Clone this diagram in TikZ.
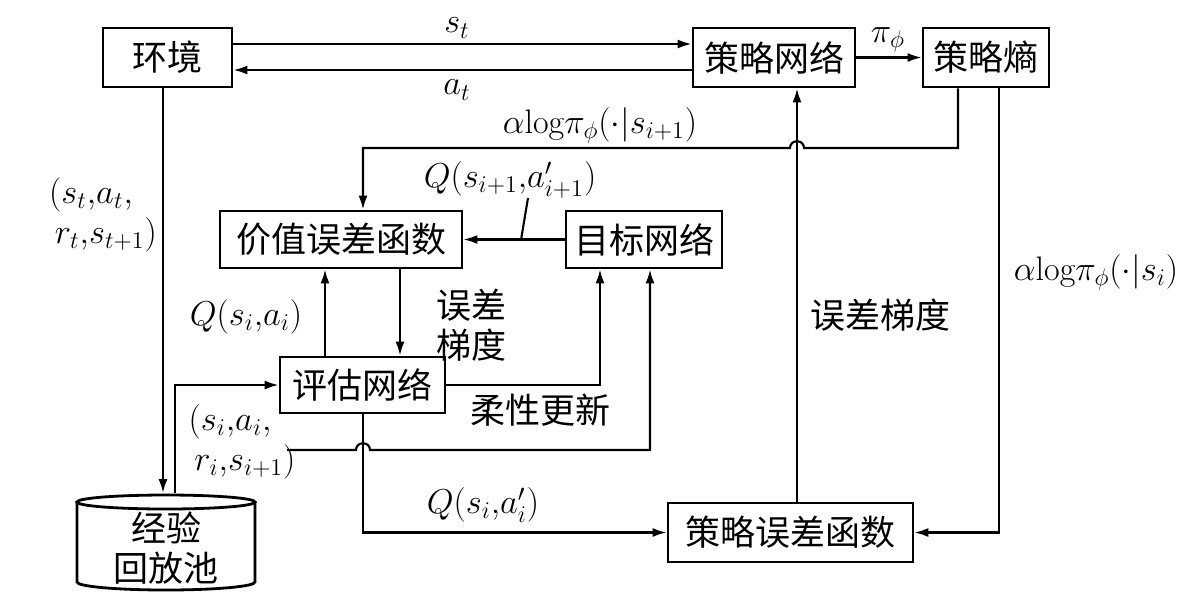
\documentclass[tikz,border=0pt]{standalone}
\usepackage{fontspec}
\newfontfamily\cjk{Noto Sans CJK SC}
\usetikzlibrary{arrows.meta}
\tikzset{
 box/.style={draw, line width=1.4pt, inner sep=0pt, font=\cjk\fontsize{17.5}{20}\selectfont},
 conn/.style={line width=1.05pt},
 arr/.style={conn, -{Latex[length=7pt,width=4.5pt]}},
 lbl/.style={inner sep=0pt, font=\fontsize{17}{20}\selectfont, align=left},
 cjklbl/.style={inner sep=0pt, font=\cjk\fontsize{17.5}{20}\selectfont, align=center},
}
\begin{document}
\begin{tikzpicture}[x=0.5pt,y=-0.5pt]
\useasboundingbox (0,0) rectangle (1200,602);
% boxes
\node[box, minimum width=64.5pt, minimum height=29.5pt] (env) at (167.5,57.5) {环境};
\node[box, minimum width=81pt, minimum height=29.5pt] (pnet) at (774,57.5) {策略网络};
\node[box, minimum width=63pt, minimum height=29.5pt] (pent) at (986,57.5) {策略熵};
\node[box, minimum width=121pt, minimum height=28.5pt] (vfun) at (341,239.5) {价值误差函数};
\node[box, minimum width=78pt, minimum height=28.5pt] (tnet) at (644,239.5) {目标网络};
\node[box, minimum width=82.5pt, minimum height=28pt] (enet) at (362.5,385) {评估网络};
\node[box, minimum width=122.5pt, minimum height=29.5pt] (pfun) at (790.5,532.5) {策略误差函数};
% replay buffer (cylinder)
\node[cjklbl, minimum width=89pt, minimum height=45pt] (buf) at (166,548) {经验\\回放池};
\draw[line width=1.4pt] (166,502) ellipse [x radius=44.5pt, y radius=3.5pt];
\draw[line width=1.4pt] (77,502) -- (77,582) arc[start angle=180, end angle=360, x radius=44.5pt, y radius=4pt] -- (255,502);
% helper coordinates
\coordinate (ys) at (0,44);
\coordinate (ya) at (0,70);
\coordinate (yh) at (0,148);
\coordinate (c958) at (958,0);
\coordinate (c999) at (999,0);
\coordinate (c363) at (363,0);
\coordinate (c325) at (325,0);
\coordinate (c400) at (400,0);
\coordinate (c600) at (600,0);
\coordinate (c650) at (650,0);
\coordinate (c175) at (175,0);
\coordinate (c163) at (163,0);
\coordinate (c797) at (797,0);
\coordinate (ctop) at (0,493);
\coordinate (br) at (287,450);
\coordinate (lead1) at (521,240);
\coordinate (lead2) at (528,198);
% connectors
\draw[arr] (env.east |- ys) -- (pnet.west |- ys);
\draw[arr] (pnet.west |- ya) -- (env.east |- ya);
\draw[arr] (pnet) -- (pent);
\draw[arr] (pent.south -| c958) -- (c958 |- yh) -- (804,148) .. controls (804,139) and (790,139) .. (790,148) -- (c363 |- yh) -- (vfun.north -| c363);
\draw[arr] (pent.south -| c999) |- (pfun.east);
\draw[arr] (tnet) -- (vfun);
\draw[conn] (lead1) -- (lead2);
\draw[arr] (enet.north -| c325) -- (vfun.south -| c325);
\draw[arr] (vfun.south -| c400) -- (enet.north -| c400);
\draw[arr] (enet.east) -| (tnet.south -| c600);
\draw[arr] (br) -- (356,450) .. controls (356,441) and (370,441) .. (370,450) -| (tnet.south -| c650);
\draw[arr] (c175 |- ctop) |- (enet.west);
\draw[arr] (env.south -| c163) -- (c163 |- ctop);
\draw[arr] (enet.south -| c363) |- (pfun.west);
\draw[arr] (pfun.north -| c797) -- (pnet.south -| c797);
% labels
\node[lbl] (lst) at (457,28) {$s_t$};
\node[lbl] (lat) at (457,90) {$a_t$};
\node[lbl] (lpi) at (888,40) {$\pi_\phi$};
\node[lbl] (lent1) at (600,125) {$\alpha\mathrm{log}\pi_\phi(\cdot|s_{i+1})$};
\node[lbl] (lq1) at (510,180) {$Q(s_{i+1}{,}a'_{i+1})$};
\node[lbl] (ltr1) at (103,215) {$(s_t{,}a_t{,}$\\$\,r_t{,}s_{t+1})$};
\node[lbl] (lq2) at (246,317) {$Q(s_i{,}a_i)$};
\node[cjklbl] (lgrad1) at (471,325) {误差\\梯度};
\node[cjklbl] (lsoft) at (540,410) {柔性更新};
\node[lbl] (ltr2) at (242,442) {$(s_i{,}a_i{,}$\\$\,r_i{,}s_{i+1})$};
\node[lbl] (lq3) at (483,505) {$Q(s_i{,}a'_i)$};
\node[cjklbl] (lgrad2) at (880,315) {误差梯度};
\node[lbl] (lent2) at (1096,272) {$\alpha\mathrm{log}\pi_\phi(\cdot|s_i)$};
\end{tikzpicture}
\end{document}
